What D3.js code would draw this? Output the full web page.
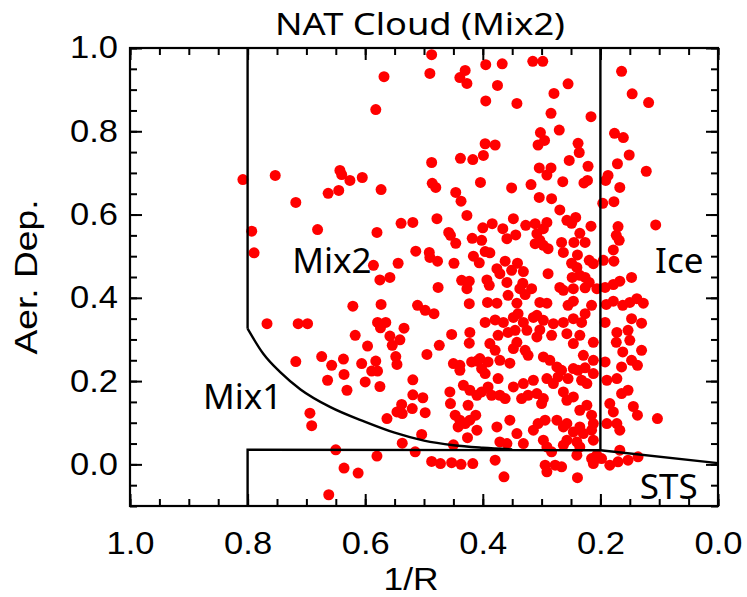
<!DOCTYPE html>
<html>
<head>
<meta charset="utf-8">
<script src="https://cdn.jsdelivr.net/npm/d3@7"></script>
<style>
    body { margin: 0; background: #fff; }
    text { font-family: "Liberation Sans", Arial, sans-serif; fill: #000; }
    .lbl { font-family: "Noto Sans", "Open Sans", sans-serif; }
</style>
</head>
<body>
<svg id="chart" width="747" height="597"></svg>
<script>
let width = 747;
let height = 597;
let margin = {top: 48, right: 29, bottom: 91, left: 130};

// 1/R of each particle (x) and aerosol depolarization (y)
let invR = [
    0.487, 0.490, 0.430, 0.439, 0.427, 0.568, 0.582, 0.808, 0.753, 0.643, 0.640, 0.626, 0.605, 0.573, 0.663, 0.645,
    0.718, 0.487, 0.438, 0.417, 0.486, 0.480, 0.446, 0.437, 0.427, 0.478, 0.539, 0.519, 0.793, 0.681, 0.580, 0.458,
    0.455, 0.446, 0.418, 0.789, 0.514, 0.491, 0.490, 0.477, 0.449, 0.416, 0.586, 0.544, 0.575, 0.558, 0.476, 0.436,
    0.423, 0.395, 0.367, 0.315, 0.298, 0.375, 0.255, 0.279, 0.395, 0.342, 0.164, 0.146, 0.118, 0.284, 0.216, 0.302,
    0.295, 0.306, 0.270, 0.238, 0.236, 0.176, 0.161, 0.151, 0.396, 0.379, 0.399, 0.253, 0.221, 0.304, 0.284, 0.291,
    0.171, 0.122, 0.187, 0.191, 0.167, 0.404, 0.351, 0.318, 0.264, 0.228, 0.222, 0.304, 0.283, 0.196, 0.177, 0.269,
    0.348, 0.257, 0.249, 0.242, 0.216, 0.170, 0.106, 0.400, 0.384, 0.366, 0.327, 0.311, 0.291, 0.297, 0.402, 0.359,
    0.344, 0.308, 0.303, 0.311, 0.297, 0.289, 0.266, 0.245, 0.235, 0.226, 0.173, 0.168, 0.178, 0.406, 0.396, 0.388,
    0.362, 0.341, 0.263, 0.239, 0.249, 0.240, 0.219, 0.212, 0.195, 0.177, 0.376, 0.371, 0.351, 0.331, 0.289, 0.248,
    0.235, 0.226, 0.147, 0.167, 0.178, 0.393, 0.389, 0.359, 0.337, 0.317, 0.269, 0.246, 0.226, 0.206, 0.192, 0.427,
    0.621, 0.573, 0.511, 0.498, 0.483, 0.423, 0.767, 0.714, 0.698, 0.579, 0.565, 0.574, 0.534, 0.422, 0.617, 0.558,
    0.554, 0.541, 0.596, 0.474, 0.453, 0.423, 0.674, 0.657, 0.637, 0.718, 0.606, 0.582, 0.548, 0.546, 0.495, 0.450,
    0.439, 0.439, 0.410, 0.636, 0.589, 0.579, 0.664, 0.600, 0.575, 0.631, 0.519, 0.456, 0.433, 0.422, 0.519, 0.502,
    0.538, 0.546, 0.537, 0.563, 0.520, 0.498, 0.455, 0.425, 0.694, 0.691, 0.447, 0.439, 0.430, 0.442, 0.412, 0.504,
    0.426, 0.537, 0.450, 0.650, 0.580, 0.515, 0.636, 0.612, 0.487, 0.472, 0.453, 0.437, 0.417, 0.662, 0.332, 0.263,
    0.219, 0.392, 0.376, 0.357, 0.342, 0.328, 0.303, 0.291, 0.255, 0.246, 0.215, 0.190, 0.178, 0.162, 0.150, 0.138,
    0.127, 0.396, 0.379, 0.365, 0.348, 0.340, 0.331, 0.314, 0.308, 0.297, 0.280, 0.263, 0.246, 0.232, 0.226, 0.192,
    0.147, 0.130, 0.374, 0.357, 0.345, 0.325, 0.303, 0.308, 0.283, 0.257, 0.235, 0.246, 0.212, 0.172, 0.173, 0.153,
    0.150, 0.130, 0.388, 0.379, 0.348, 0.342, 0.328, 0.323, 0.229, 0.212, 0.192, 0.162, 0.147, 0.137, 0.419, 0.405,
    0.391, 0.371, 0.402, 0.396, 0.354, 0.297, 0.286, 0.274, 0.266, 0.246, 0.238, 0.226, 0.212, 0.164, 0.374, 0.331,
    0.314, 0.291, 0.280, 0.272, 0.255, 0.232, 0.223, 0.189, 0.172, 0.153, 0.164, 0.410, 0.402, 0.391, 0.385, 0.371,
    0.362, 0.348, 0.334, 0.323, 0.308, 0.297, 0.300, 0.263, 0.257, 0.246, 0.223, 0.235, 0.184, 0.178, 0.144, 0.137,
    0.103, 0.422, 0.410, 0.376, 0.354, 0.342, 0.314, 0.306, 0.294, 0.274, 0.263, 0.257, 0.246, 0.235, 0.229, 0.215,
    0.212, 0.215, 0.189, 0.172, 0.167, 0.371, 0.359, 0.331, 0.297, 0.291, 0.283, 0.263, 0.257, 0.240, 0.235, 0.212,
    0.240, 0.215, 0.206, 0.198, 0.212, 0.167, 0.184, 0.170, 0.153, 0.136, 0.379, 0.294, 0.277, 0.266, 0.291, 0.364,
    0.239
];
let aerDep = [
    0.984, 0.939, 0.946, 0.929, 0.915, 0.931, 0.852, 0.684, 0.694, 0.706, 0.696, 0.682, 0.689, 0.660, 0.651, 0.658,
    0.629, 0.725, 0.735, 0.732, 0.675, 0.665, 0.653, 0.632, 0.598, 0.590, 0.579, 0.581, 0.560, 0.564, 0.557, 0.557,
    0.550, 0.531, 0.543, 0.508, 0.512, 0.509, 0.497, 0.488, 0.483, 0.500, 0.478, 0.483, 0.443, 0.449, 0.425, 0.442,
    0.440, 0.960, 0.962, 0.968, 0.968, 0.910, 0.914, 0.891, 0.873, 0.867, 0.944, 0.890, 0.869, 0.843, 0.835, 0.797,
    0.778, 0.767, 0.803, 0.771, 0.749, 0.795, 0.785, 0.743, 0.770, 0.767, 0.742, 0.730, 0.716, 0.712, 0.712, 0.695,
    0.722, 0.704, 0.694, 0.682, 0.665, 0.677, 0.664, 0.672, 0.679, 0.676, 0.682, 0.641, 0.638, 0.627, 0.631, 0.611,
    0.590, 0.586, 0.579, 0.593, 0.572, 0.571, 0.575, 0.568, 0.578, 0.566, 0.574, 0.578, 0.581, 0.566, 0.538, 0.542,
    0.551, 0.554, 0.538, 0.530, 0.526, 0.518, 0.533, 0.533, 0.555, 0.533, 0.550, 0.538, 0.515, 0.484, 0.511, 0.508,
    0.488, 0.483, 0.509, 0.503, 0.483, 0.473, 0.490, 0.482, 0.490, 0.488, 0.470, 0.458, 0.466, 0.463, 0.458, 0.449,
    0.454, 0.449, 0.449, 0.440, 0.432, 0.443, 0.430, 0.437, 0.422, 0.422, 0.425, 0.422, 0.424, 0.422, 0.425, 0.422,
    0.380, 0.384, 0.382, 0.370, 0.362, 0.386, 0.338, 0.338, 0.338, 0.341, 0.341, 0.328, 0.327, 0.317, 0.310, 0.308,
    0.286, 0.299, 0.284, 0.286, 0.312, 0.291, 0.259, 0.238, 0.253, 0.247, 0.242, 0.248, 0.259, 0.240, 0.264, 0.242,
    0.238, 0.226, 0.248, 0.216, 0.224, 0.224, 0.202, 0.198, 0.187, 0.178, 0.203, 0.174, 0.190, 0.178, 0.167, 0.160,
    0.144, 0.126, 0.122, 0.110, 0.134, 0.124, 0.146, 0.142, 0.123, 0.093, 0.118, 0.106, 0.098, 0.090, 0.118, 0.072,
    0.064, 0.051, 0.047, 0.035, 0.020, 0.030, -0.009, -0.021, 0.007, 0.002, 0.004, 0.000, 0.002, -0.073, 0.435, 0.418,
    0.437, 0.389, 0.387, 0.406, 0.387, 0.408, 0.389, 0.387, 0.382, 0.392, 0.382, 0.384, 0.392, 0.382, 0.389, 0.398,
    0.387, 0.341, 0.347, 0.341, 0.353, 0.362, 0.341, 0.353, 0.358, 0.346, 0.338, 0.341, 0.350, 0.341, 0.362, 0.341,
    0.350, 0.339, 0.310, 0.317, 0.322, 0.322, 0.323, 0.306, 0.310, 0.314, 0.310, 0.290, 0.293, 0.317, 0.293, 0.322,
    0.298, 0.274, 0.290, 0.274, 0.278, 0.293, 0.274, 0.262, 0.262, 0.250, 0.246, 0.270, 0.250, 0.238, 0.246, 0.254,
    0.246, 0.250, 0.230, 0.218, 0.243, 0.258, 0.250, 0.234, 0.226, 0.230, 0.226, 0.232, 0.218, 0.234, 0.206, 0.194,
    0.202, 0.206, 0.194, 0.210, 0.206, 0.202, 0.194, 0.202, 0.206, 0.178, 0.170, 0.166, 0.174, 0.186, 0.166, 0.166,
    0.158, 0.186, 0.158, 0.166, 0.170, 0.158, 0.146, 0.174, 0.154, 0.162, 0.142, 0.130, 0.146, 0.126, 0.139, 0.118,
    0.110, 0.106, 0.082, 0.090, 0.106, 0.074, 0.082, 0.098, 0.106, 0.106, 0.090, 0.098, 0.078, 0.090, 0.074, 0.082,
    0.098, 0.118, 0.098, 0.098, 0.082, 0.054, 0.050, 0.050, 0.058, 0.042, 0.030, 0.046, 0.058, 0.054, 0.042, 0.058,
    0.022, 0.014, 0.022, 0.014, 0.002, 0.034, -0.002, 0.006, 0.010, 0.018, 0.010, -0.002, -0.002, -0.006, -0.018, -0.030,
    -0.032
];

// classification boundaries [1/R, Aer. Dep.]
let mix2Edge = [[0.8, 1.0], [0.8, 0.326]];
let mix1Curve = [[0.8, 0.326], [0.773, 0.265], [0.745, 0.222], [0.71, 0.180], [0.66, 0.138],
    [0.60, 0.102], [0.55, 0.076], [0.50, 0.057], [0.45, 0.046], [0.40, 0.040], [0.35, 0.036]];
let stsEdge = [[0.8, -0.1], [0.8, 0.035], [0.2, 0.034], [0.0, 0.003]];
let iceEdge = [[0.2, 1.0], [0.2, 0.034]];

let xTicks = [1.0, 0.8, 0.6, 0.4, 0.2, 0.0];
let yTicks = [0.0, 0.2, 0.4, 0.6, 0.8, 1.0];
let xMinor = d3.range(0, 21).map(d => d * 0.05);
let yMinor = d3.range(-2, 21).map(d => d * 0.05);

let regionLabels = [
    {name: 'Mix2', x: 0.724, y: 0.46},
    {name: 'Ice', x: 0.107, y: 0.46},
    {name: 'Mix1', x: 0.876, y: 0.134},
    {name: 'STS', x: 0.133, y: -0.082}
];

let svg = d3.select('#chart');
let xScale = d3.scaleLinear().domain([1, 0]).range([margin.left, width - margin.right]);
let yScale = d3.scaleLinear().domain([-0.1, 1.0]).range([height - margin.bottom, margin.top]);
let x0 = margin.left, x1 = width - margin.right;
let y0 = height - margin.bottom, y1 = margin.top;

// points
svg.append('g')
    .selectAll('circle')
    .data(invR.map((r, i) => [r, aerDep[i]]))
    .enter()
    .append('circle')
    .attr('cx', d => xScale(d[0]))
    .attr('cy', d => yScale(d[1]))
    .attr('r', 5.5)
    .attr('fill', '#ff0000');

// boundaries
let line = d3.line()
    .x(d => xScale(d[0]))
    .y(d => yScale(d[1]));
let bounds = svg.append('g')
    .attr('fill', 'none')
    .attr('stroke', '#000')
    .attr('stroke-width', 2.4);
bounds.append('path').attr('d', line(mix2Edge));
bounds.append('path').attr('d', line.curve(d3.curveMonotoneX)(mix1Curve));
line.curve(d3.curveLinear);
bounds.append('path').attr('d', line(stsEdge));
bounds.append('path').attr('d', line(iceEdge));

// ticks on all four sides
function ticks(axis, pos, values, size) {
    let g = svg.append('g')
        .attr('transform', pos)
        .call(axis.tickValues(values).tickSize(-size).tickFormat(''));
    g.select('.domain').remove();
    g.selectAll('line').attr('stroke-width', 2);
    return g;
}
ticks(d3.axisBottom(xScale), 'translate(0,' + y0 + ')', xMinor, 7);
ticks(d3.axisBottom(xScale), 'translate(0,' + y0 + ')', xTicks, 12);
ticks(d3.axisTop(xScale), 'translate(0,' + y1 + ')', xMinor, 7);
ticks(d3.axisTop(xScale), 'translate(0,' + y1 + ')', xTicks, 12);
ticks(d3.axisLeft(yScale), 'translate(' + x0 + ',0)', yMinor, 7);
ticks(d3.axisLeft(yScale), 'translate(' + x0 + ',0)', yTicks, 12);
ticks(d3.axisRight(yScale), 'translate(' + x1 + ',0)', yMinor, 7);
ticks(d3.axisRight(yScale), 'translate(' + x1 + ',0)', yTicks, 12);

// tick labels
let xLab = svg.append('g')
    .attr('transform', 'translate(0,' + y0 + ')')
    .call(d3.axisBottom(xScale).tickValues(xTicks).tickSize(0).tickPadding(26).tickFormat(d3.format('.1f')));
xLab.select('.domain').remove();
xLab.selectAll('text')
    .attr('font-size', 31)
    .attr('font-family', '"Liberation Sans", Arial, sans-serif')
    .attr('textLength', 48)
    .attr('lengthAdjust', 'spacingAndGlyphs');

let yLab = svg.append('g')
    .attr('transform', 'translate(' + x0 + ',0)')
    .call(d3.axisLeft(yScale).tickValues(yTicks).tickSize(0).tickPadding(12).tickFormat(d3.format('.1f')));
yLab.select('.domain').remove();
yLab.selectAll('text')
    .attr('font-size', 31)
    .attr('font-family', '"Liberation Sans", Arial, sans-serif')
    .attr('textLength', 48)
    .attr('lengthAdjust', 'spacingAndGlyphs');

// frame
svg.append('rect')
    .attr('x', x0)
    .attr('y', y1)
    .attr('width', x1 - x0)
    .attr('height', y0 - y1)
    .attr('fill', 'none')
    .attr('stroke', '#000')
    .attr('stroke-width', 2.2);

// axis titles
svg.append('text')
    .attr('x', (x0 + x1) / 2 - 13)
    .attr('y', 590)
    .attr('text-anchor', 'middle')
    .attr('font-size', 32)
    .attr('textLength', 55)
    .attr('lengthAdjust', 'spacingAndGlyphs')
    .text('1/R');
svg.append('text')
    .attr('transform', 'translate(37,' + 277 + ') rotate(-90)')
    .attr('text-anchor', 'middle')
    .attr('font-size', 31)
    .attr('textLength', 155)
    .attr('lengthAdjust', 'spacingAndGlyphs')
    .text('Aer. Dep.');

// title
svg.append('text')
    .attr('class', 'lbl')
    .attr('x', 275)
    .attr('y', 35)
    .attr('font-size', 31)
    .attr('textLength', 290)
    .attr('lengthAdjust', 'spacingAndGlyphs')
    .text('NAT Cloud (Mix2)');

// region names
svg.append('g')
    .selectAll('text')
    .data(regionLabels)
    .enter()
    .append('text')
    .attr('class', 'lbl')
    .attr('x', d => xScale(d.x))
    .attr('y', d => yScale(d.y))
    .attr('font-size', 35)
    .text(d => d.name);
</script>
</body>
</html>
